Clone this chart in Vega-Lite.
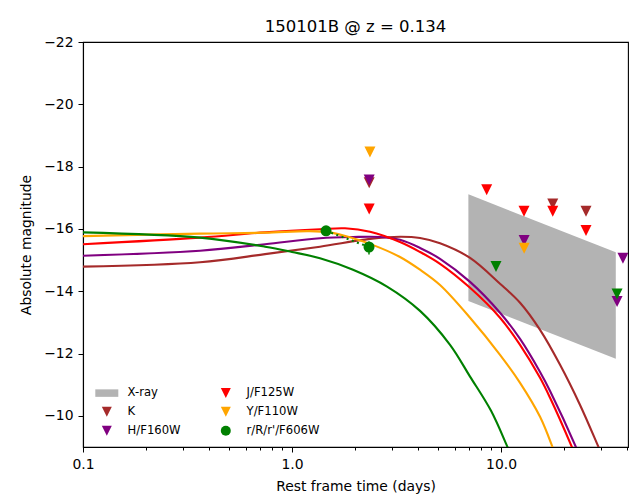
{
  "$schema": "https://vega.github.io/schema/vega-lite/v6.json",
  "width": 545,
  "height": 405,
  "autosize": {"type": "none"},
  "padding": {"left": 83, "top": 42, "right": 12, "bottom": 54},
  "background": "white",
  "title": {"text": "150101B @ z = 0.134", "fontSize": 16.5, "fontWeight": "normal", "font": "DejaVu Sans", "color": "black", "offset": 0, "frame": "group"},
  "config": {
    "font": "DejaVu Sans",
    "view": {"stroke": "black", "strokeWidth": 1.1},
    "axis": {"domainColor": "black", "tickColor": "black", "labelColor": "black", "titleColor": "black", "labelFontSize": 13.9, "titleFontSize": 13.9, "titleFontWeight": "normal", "grid": false, "tickWidth": 1, "domainWidth": 1.1, "labelFont": "DejaVu Sans", "titleFont": "DejaVu Sans"}
  },
  "datasets": {
    "xray": [{"t": 6.98, "mag": -17.11, "mag2": -13.69}, {"t": 35.4, "mag": -15.25, "mag2": -11.83}],
    "models": [
      {"band": "K", "t": 0.1, "mag": -14.79}, {"band": "K", "t": 0.363, "mag": -14.93}, {"band": "K", "t": 0.743, "mag": -15.19}, {"band": "K", "t": 1.361, "mag": -15.43}, {"band": "K", "t": 2.362, "mag": -15.68}, {"band": "K", "t": 3.286, "mag": -15.75}, {"band": "K", "t": 4.097, "mag": -15.71}, {"band": "K", "t": 5.107, "mag": -15.54}, {"band": "K", "t": 7.108, "mag": -15.07}, {"band": "K", "t": 9.89, "mag": -14.24}, {"band": "K", "t": 12.33, "mag": -13.63}, {"band": "K", "t": 15.37, "mag": -12.76}, {"band": "K", "t": 19.16, "mag": -11.64}, {"band": "K", "t": 23.88, "mag": -10.35}, {"band": "K", "t": 29.22, "mag": -9.01}, {"band": "K", "t": 31.1, "mag": -8.59},
      {"band": "H/F160W", "t": 0.1, "mag": -15.14}, {"band": "H/F160W", "t": 0.363, "mag": -15.30}, {"band": "H/F160W", "t": 0.743, "mag": -15.51}, {"band": "H/F160W", "t": 1.361, "mag": -15.70}, {"band": "H/F160W", "t": 1.958, "mag": -15.74}, {"band": "H/F160W", "t": 2.637, "mag": -15.74}, {"band": "H/F160W", "t": 3.286, "mag": -15.65}, {"band": "H/F160W", "t": 4.097, "mag": -15.39}, {"band": "H/F160W", "t": 5.107, "mag": -15.04}, {"band": "H/F160W", "t": 7.108, "mag": -14.30}, {"band": "H/F160W", "t": 9.89, "mag": -13.31}, {"band": "H/F160W", "t": 12.33, "mag": -12.47}, {"band": "H/F160W", "t": 15.37, "mag": -11.41}, {"band": "H/F160W", "t": 17.16, "mag": -10.80}, {"band": "H/F160W", "t": 22.78, "mag": -9.01}, {"band": "H/F160W", "t": 24.14, "mag": -8.59},
      {"band": "J/F125W", "t": 0.1, "mag": -15.51}, {"band": "J/F125W", "t": 0.363, "mag": -15.72}, {"band": "J/F125W", "t": 0.743, "mag": -15.89}, {"band": "J/F125W", "t": 1.361, "mag": -15.99}, {"band": "J/F125W", "t": 1.793, "mag": -16.02}, {"band": "J/F125W", "t": 2.362, "mag": -15.91}, {"band": "J/F125W", "t": 3.286, "mag": -15.58}, {"band": "J/F125W", "t": 4.097, "mag": -15.26}, {"band": "J/F125W", "t": 5.107, "mag": -14.88}, {"band": "J/F125W", "t": 7.108, "mag": -14.11}, {"band": "J/F125W", "t": 9.89, "mag": -13.15}, {"band": "J/F125W", "t": 12.33, "mag": -12.28}, {"band": "J/F125W", "t": 15.37, "mag": -11.22}, {"band": "J/F125W", "t": 17.16, "mag": -10.58}, {"band": "J/F125W", "t": 21.79, "mag": -9.01}, {"band": "J/F125W", "t": 23.1, "mag": -8.59},
      {"band": "Y/F110W", "t": 0.1, "mag": -15.77}, {"band": "Y/F110W", "t": 0.363, "mag": -15.85}, {"band": "Y/F110W", "t": 0.743, "mag": -15.88}, {"band": "Y/F110W", "t": 1.2, "mag": -15.93}, {"band": "Y/F110W", "t": 1.52, "mag": -15.89}, {"band": "Y/F110W", "t": 1.958, "mag": -15.70}, {"band": "Y/F110W", "t": 2.362, "mag": -15.52}, {"band": "Y/F110W", "t": 3.286, "mag": -15.10}, {"band": "Y/F110W", "t": 4.097, "mag": -14.69}, {"band": "Y/F110W", "t": 5.107, "mag": -14.20}, {"band": "Y/F110W", "t": 7.108, "mag": -13.15}, {"band": "Y/F110W", "t": 9.89, "mag": -11.96}, {"band": "Y/F110W", "t": 12.33, "mag": -11.06}, {"band": "Y/F110W", "t": 15.37, "mag": -9.97}, {"band": "Y/F110W", "t": 17.6, "mag": -9.01}, {"band": "Y/F110W", "t": 18.54, "mag": -8.59},
      {"band": "r/R/r'/F606W", "t": 0.1, "mag": -15.89}, {"band": "r/R/r'/F606W", "t": 0.363, "mag": -15.72}, {"band": "r/R/r'/F606W", "t": 0.743, "mag": -15.43}, {"band": "r/R/r'/F606W", "t": 1.0, "mag": -15.26}, {"band": "r/R/r'/F606W", "t": 1.361, "mag": -15.06}, {"band": "r/R/r'/F606W", "t": 1.958, "mag": -14.69}, {"band": "r/R/r'/F606W", "t": 2.849, "mag": -14.15}, {"band": "r/R/r'/F606W", "t": 4.097, "mag": -13.37}, {"band": "r/R/r'/F606W", "t": 5.702, "mag": -12.28}, {"band": "r/R/r'/F606W", "t": 7.108, "mag": -11.26}, {"band": "r/R/r'/F606W", "t": 8.959, "mag": -10.16}, {"band": "r/R/r'/F606W", "t": 10.72, "mag": -9.01}, {"band": "r/R/r'/F606W", "t": 11.41, "mag": -8.59}
    ],
    "limits": [
      {"band": "K", "t": 2.34, "mag": -17.48},
      {"band": "K", "t": 17.68, "mag": -16.80},
      {"band": "K", "t": 25.5, "mag": -16.57},
      {"band": "H/F160W", "t": 2.34, "mag": -17.57},
      {"band": "H/F160W", "t": 12.9, "mag": -15.63},
      {"band": "H/F160W", "t": 35.9, "mag": -13.67},
      {"band": "H/F160W", "t": 38.3, "mag": -15.06},
      {"band": "J/F125W", "t": 2.34, "mag": -16.64},
      {"band": "J/F125W", "t": 8.54, "mag": -17.26},
      {"band": "J/F125W", "t": 12.88, "mag": -16.57},
      {"band": "J/F125W", "t": 17.68, "mag": -16.57},
      {"band": "J/F125W", "t": 25.5, "mag": -15.95},
      {"band": "Y/F110W", "t": 2.36, "mag": -18.47},
      {"band": "Y/F110W", "t": 12.9, "mag": -15.38},
      {"band": "r/R/r'/F606W", "t": 1.455, "mag": -15.94},
      {"band": "r/R/r'/F606W", "t": 2.335, "mag": -15.42}
    ],
    "rlimits": [{"t": 9.46, "mag": -14.79}, {"t": 35.9, "mag": -13.91}],
    "rdet": [{"t": 1.455, "mag": -15.94}, {"t": 2.335, "mag": -15.42}],
    "rerr": [{"t": 2.335, "mag": -15.6, "mag2": -15.18}]
  },
  "layer": [
    {
      "data": {"name": "xray"},
      "mark": {"type": "area", "color": "#b3b3b3", "opacity": 1, "clip": true},
      "encoding": {
        "x": {"field": "t", "type": "quantitative", "title": "Rest frame time (days)",
          "scale": {"type": "log", "domain": [0.1, 40.5], "nice": false},
          "axis": {"values": [0.1,0.2,0.3,0.4,0.5,0.6,0.7,0.8,0.9,1,2,3,4,5,6,7,8,9,10,20,30,40],
            "labelExpr": "(datum.value == 0.1 || datum.value == 1 || datum.value == 10) ? format(datum.value, '.1f') : ''",
            "tickSize": {"condition": {"test": "datum.value == 0.1 || datum.value == 1 || datum.value == 10", "value": 5}, "value": 3},
            "labelPadding": 5, "labelOverlap": false, "labelFlush": false, "titlePadding": 9}},
        "y": {"field": "mag", "type": "quantitative", "title": "Absolute magnitude",
          "scale": {"domain": [-22, -9], "reverse": true, "nice": false, "zero": false},
          "axis": {"values": [-22, -20, -18, -16, -14, -12, -10], "format": "d", "tickSize": 5, "labelPadding": 5, "titlePadding": 10}},
        "y2": {"field": "mag2"}
      }
    },
    {
      "data": {"name": "models"},
      "mark": {"type": "line", "interpolate": "catmull-rom", "strokeWidth": 2.1, "clip": true},
      "encoding": {
        "x": {"field": "t", "type": "quantitative"},
        "y": {"field": "mag", "type": "quantitative"},
        "stroke": {"field": "band", "type": "nominal", "legend": null,
          "scale": {"domain": ["K", "H/F160W", "J/F125W", "Y/F110W", "r/R/r'/F606W"], "range": ["#a52a2a", "#800080", "#ff0000", "#ffa500", "#008000"]}}
      }
    },
    {
      "data": {"name": "rdet"},
      "mark": {"type": "line", "color": "#008000", "strokeWidth": 2.1, "strokeDash": [2, 3.5]},
      "encoding": {
        "x": {"field": "t", "type": "quantitative"},
        "y": {"field": "mag", "type": "quantitative"}
      }
    },
    {
      "data": {"name": "rerr"},
      "mark": {"type": "rule", "color": "#008000", "strokeWidth": 1.5},
      "encoding": {
        "x": {"field": "t", "type": "quantitative"},
        "y": {"field": "mag", "type": "quantitative"},
        "y2": {"field": "mag2"}
      }
    },
    {
      "data": {"name": "limits"},
      "mark": {"type": "point", "filled": true, "size": 121, "opacity": 1, "strokeWidth": 0, "clip": true},
      "encoding": {
        "x": {"field": "t", "type": "quantitative"},
        "y": {"field": "mag", "type": "quantitative"},
        "color": {"field": "band", "type": "nominal",
          "scale": {"domain": ["X-ray", "K", "H/F160W", "J/F125W", "Y/F110W", "r/R/r'/F606W"], "range": ["#b3b3b3", "#a52a2a", "#800080", "#ff0000", "#ffa500", "#008000"]},
          "legend": {"orient": "bottom-left", "title": null, "columns": 2, "offset": 10, "padding": 0, "labelFontSize": 11.6, "labelFont": "DejaVu Sans", "labelColor": "black", "symbolOffset": 8, "labelOffset": 15, "columnPadding": 31, "rowPadding": 6, "symbolStrokeWidth": 0, "symbolOpacity": 1}},
        "shape": {"field": "band", "type": "nominal",
          "scale": {"domain": ["X-ray", "K", "H/F160W", "J/F125W", "Y/F110W", "r/R/r'/F606W"], "range": ["M-2.3,-0.75H2.3V0.75H-2.3Z", "M-1,-1L1,-1L0,1Z", "M-1,-1L1,-1L0,1Z", "M-1,-1L1,-1L0,1Z", "M-1,-1L1,-1L0,1Z", "circle"]},
          "legend": {"orient": "bottom-left", "title": null, "columns": 2, "offset": 10, "padding": 0, "labelFontSize": 11.6, "labelFont": "DejaVu Sans", "labelColor": "black", "symbolOffset": 8, "labelOffset": 15, "columnPadding": 31, "rowPadding": 6, "symbolStrokeWidth": 0, "symbolOpacity": 1}}
      }
    },
    {
      "data": {"name": "rlimits"},
      "mark": {"type": "point", "filled": true, "size": 121, "opacity": 1, "strokeWidth": 0, "color": "#008000", "shape": "M-1,-1L1,-1L0,1Z", "clip": true},
      "encoding": {
        "x": {"field": "t", "type": "quantitative"},
        "y": {"field": "mag", "type": "quantitative"}
      }
    }
  ]
}
